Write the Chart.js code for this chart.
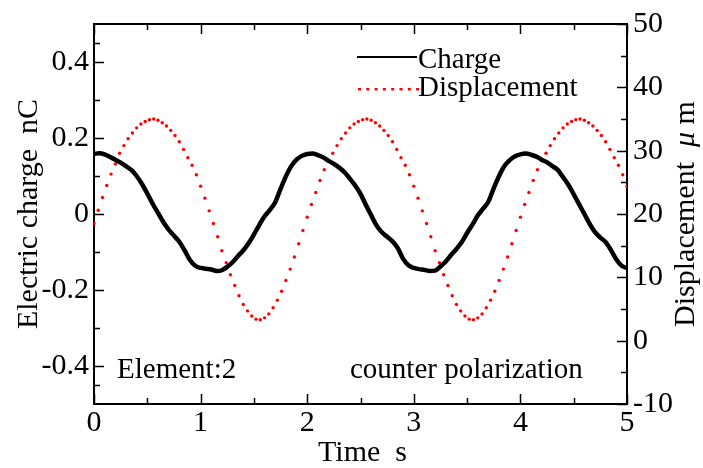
<!DOCTYPE html>
<html>
<head>
<meta charset="utf-8">
<title>Electric charge and displacement</title>
<script src="https://cdn.jsdelivr.net/npm/chart.js@4.4.1/dist/chart.umd.min.js"></script>
<style>
  html, body { margin: 0; padding: 0; background: #fff; }
  #wrap { width: 703px; height: 468px; }
</style>
</head>
<body>
<div id="wrap"><canvas id="chart" width="703" height="468"></canvas></div>
<script>
// Values
const chargeStep = 0.05; // s between charge samples
const chargeNC = [
  0.158, 0.160, 0.157, 0.150, 0.143, 0.135, 0.126, 0.116, 0.100, 0.079,
  0.054, 0.027, 0.003, -0.021, -0.041, -0.057, -0.073, -0.096, -0.121, -0.136,
  -0.142, -0.144, -0.146, -0.150, -0.148, -0.139, -0.127, -0.111, -0.096, -0.077,
  -0.054, -0.029, -0.006, 0.011, 0.031, 0.066, 0.099, 0.126, 0.143, 0.153,
  0.158, 0.159, 0.155, 0.149, 0.140, 0.132, 0.122, 0.110, 0.093, 0.075,
  0.053, 0.024, -0.003, -0.030, -0.048, -0.060, -0.072, -0.090, -0.118, -0.135,
  -0.142, -0.145, -0.147, -0.150, -0.149, -0.138, -0.125, -0.108, -0.092, -0.074,
  -0.050, -0.028, -0.004, 0.014, 0.033, 0.068, 0.100, 0.126, 0.142, 0.152,
  0.157, 0.159, 0.156, 0.151, 0.143, 0.136, 0.126, 0.116, 0.097, 0.077,
  0.052, 0.026, 0.000, -0.026, -0.048, -0.062, -0.074, -0.095, -0.120, -0.136,
  -0.142
];

const dispStep = 0.04; // s between displacement samples
const dispUm = [
  18.5, 20.6, 22.6, 24.5, 26.3, 27.9, 29.6, 30.8, 31.9, 32.8,
  33.6, 34.2, 34.6, 34.9, 35.0, 34.8, 34.4, 33.9, 33.2, 32.4,
  31.4, 30.2, 28.9, 27.7, 26.2, 24.4, 22.5, 20.5, 18.5, 16.4,
  14.2, 12.3, 10.4, 8.7, 7.1, 5.7, 4.7, 3.9, 3.4, 3.3,
  3.6, 4.2, 5.2, 6.4, 7.8, 9.5, 11.3, 13.2, 15.3, 17.4,
  19.5, 21.5, 23.4, 25.3, 27.0, 28.4, 29.6, 30.8, 31.9, 32.8,
  33.6, 34.2, 34.6, 34.9, 35.0, 34.8, 34.4, 33.9, 33.2, 32.4,
  31.4, 30.2, 28.9, 27.7, 26.2, 24.4, 22.5, 20.5, 18.5, 16.4,
  14.2, 12.3, 10.4, 8.7, 7.1, 5.7, 4.7, 3.9, 3.4, 3.3,
  3.6, 4.2, 5.2, 6.4, 7.8, 9.5, 11.3, 13.2, 15.3, 17.4,
  19.5, 21.5, 23.4, 25.3, 27.0, 28.4, 29.6, 30.8, 31.9, 32.8,
  33.6, 34.2, 34.6, 34.9, 35.0, 34.8, 34.4, 33.9, 33.2, 32.4,
  31.4, 30.2, 28.9, 27.7, 26.2, 24.4
];

const timeTicks = [0, 1, 2, 3, 4, 5];
const chargeTicks = [-0.4, -0.2, 0, 0.2, 0.4];
const dispTicks = [-10, 0, 10, 20, 30, 40, 50];
const seriesNames = ['Charge', 'Displacement'];
const notes = ['Element:2', 'counter polarization'];

const SERIF = '"Liberation Serif", "Times New Roman", serif';
const RED = '#ff0000';

function fixTicks(values) {
    return scale => { scale.ticks = values.map(v => ({ value: v })); };
}

// major ticks plus a minor one half way between each pair
function withMinor(arr) {
    const out = [];
    arr.forEach((v, i) => {
        out.push([v, 10]);
        if (i < arr.length - 1) out.push([(v + arr[i + 1]) / 2, 6]);
    });
    return out;
}

// Inward ticks, top frame, legend, notes and axis titles
const overlay = {
    id: 'overlay',
    afterDraw(chart) {
        const { ctx, chartArea: a, scales } = chart;
        const sx = scales.x, sl = scales.y, sr = scales.y2;
        ctx.save();
        ctx.strokeStyle = '#000';
        ctx.fillStyle = '#000';

        ctx.lineWidth = 2;
        ctx.beginPath();
        ctx.moveTo(a.left - 1, a.top);
        ctx.lineTo(a.right + 1, a.top);
        ctx.stroke();

        ctx.lineWidth = 1.5;
        ctx.beginPath();
        withMinor(timeTicks).forEach(([v, len]) => {
            const px = Math.round(sx.getPixelForValue(v)) + 0.5;
            ctx.moveTo(px, a.bottom); ctx.lineTo(px, a.bottom - len);
            ctx.moveTo(px, a.top); ctx.lineTo(px, a.top + len);
        });
        withMinor([-0.5, ...chargeTicks, 0.5]).forEach(([v, len]) => {
            if (Math.abs(v) > 0.49) return;
            const py = Math.round(sl.getPixelForValue(v)) + 0.5;
            ctx.moveTo(a.left, py); ctx.lineTo(a.left + len, py);
        });
        withMinor(dispTicks).forEach(([v, len]) => {
            const py = Math.round(sr.getPixelForValue(v)) + 0.5;
            ctx.moveTo(a.right, py); ctx.lineTo(a.right - len, py);
        });
        ctx.stroke();

        // legend
        ctx.font = '29px ' + SERIF;
        ctx.textAlign = 'left';
        ctx.textBaseline = 'alphabetic';
        ctx.lineWidth = 1.8;
        ctx.beginPath();
        ctx.moveTo(357, 57); ctx.lineTo(417, 57);
        ctx.stroke();
        ctx.fillText(seriesNames[0], 418, 68);
        ctx.fillStyle = RED;
        for (let px = 358; px < 417; px += 8.3) ctx.fillRect(px, 88, 3, 2.5);
        ctx.fillStyle = '#000';
        ctx.fillText(seriesNames[1], 418, 96);

        // notes inside the plot
        ctx.fillText(notes[0], a.left + 23, 378);
        ctx.fillText(notes[1], a.left + 256, 378);

        // axis titles
        const midY = (a.top + a.bottom) / 2;
        ctx.font = '30px ' + SERIF;
        ctx.textAlign = 'center';
        ctx.textBaseline = 'middle';
        ctx.fillText('Time  s', (a.left + a.right) / 2 + 2, 453);

        ctx.save();
        ctx.translate(29, midY);
        ctx.rotate(-Math.PI / 2);
        ctx.fillText('Electric charge  nC', 0, 0);
        ctx.restore();

        const parts = [['Displacement  ', 'normal'], ['\u03bc', 'italic'], [' m', 'normal']];
        let total = 0;
        parts.forEach(p => { ctx.font = p[1] + ' 30px ' + SERIF; total += ctx.measureText(p[0]).width; });
        ctx.save();
        ctx.translate(686, midY);
        ctx.rotate(-Math.PI / 2);
        ctx.textAlign = 'left';
        let cx = -total / 2;
        parts.forEach(p => {
            ctx.font = p[1] + ' 30px ' + SERIF;
            ctx.fillText(p[0], cx, 0);
            cx += ctx.measureText(p[0]).width;
        });
        ctx.restore();

        ctx.restore();
    }
};

const tickFont = { family: SERIF, size: 30 };

new Chart(document.getElementById('chart'), {
    type: 'line',
    data: {
        datasets: [{
            label: seriesNames[0],
            data: chargeNC.map((v, i) => ({ x: i * chargeStep, y: v })),
            yAxisID: 'y',
            borderColor: '#000',
            borderWidth: 4.5,
            pointRadius: 0,
            cubicInterpolationMode: 'monotone',
            fill: false
        }, {
            label: seriesNames[1],
            data: dispUm.map((v, i) => ({ x: i * dispStep, y: v })),
            yAxisID: 'y2',
            showLine: false,
            pointRadius: 1.7,
            pointBorderWidth: 0,
            pointBackgroundColor: RED,
            borderColor: RED
        }]
    },
    options: {
        responsive: false,
        animation: false,
        devicePixelRatio: 1,
        layout: { padding: { top: 23, left: 0, right: 0, bottom: 0 } },
        plugins: { legend: { display: false }, tooltip: { enabled: false } },
        scales: {
            x: {
                type: 'linear',
                min: 0,
                max: 5,
                afterBuildTicks: fixTicks(timeTicks),
                afterFit: s => { s.height = 64; },
                grid: { display: false, drawTicks: false, tickLength: 0 },
                border: { display: true, color: '#000', width: 2 },
                ticks: { color: '#000', font: tickFont, padding: 1, maxRotation: 0,
                         callback: v => String(v) }
            },
            y: {
                position: 'left',
                min: -0.5,
                max: 0.5,
                afterBuildTicks: fixTicks(chargeTicks),
                afterFit: s => { s.width = 94; },
                grid: { display: false, drawTicks: false, tickLength: 0 },
                border: { display: true, color: '#000', width: 2 },
                ticks: { color: '#000', font: tickFont, padding: 5,
                         callback: v => (v === 0 ? '0' : v.toFixed(1)) }
            },
            y2: {
                position: 'right',
                min: -10,
                max: 50,
                afterBuildTicks: fixTicks(dispTicks),
                afterFit: s => { s.width = 76; },
                grid: { display: false, drawTicks: false, tickLength: 0 },
                border: { display: true, color: '#000', width: 2 },
                ticks: { color: '#000', font: tickFont, padding: 6,
                         callback: v => String(v) }
            }
        }
    },
    plugins: [overlay]
});
</script>
</body>
</html>
